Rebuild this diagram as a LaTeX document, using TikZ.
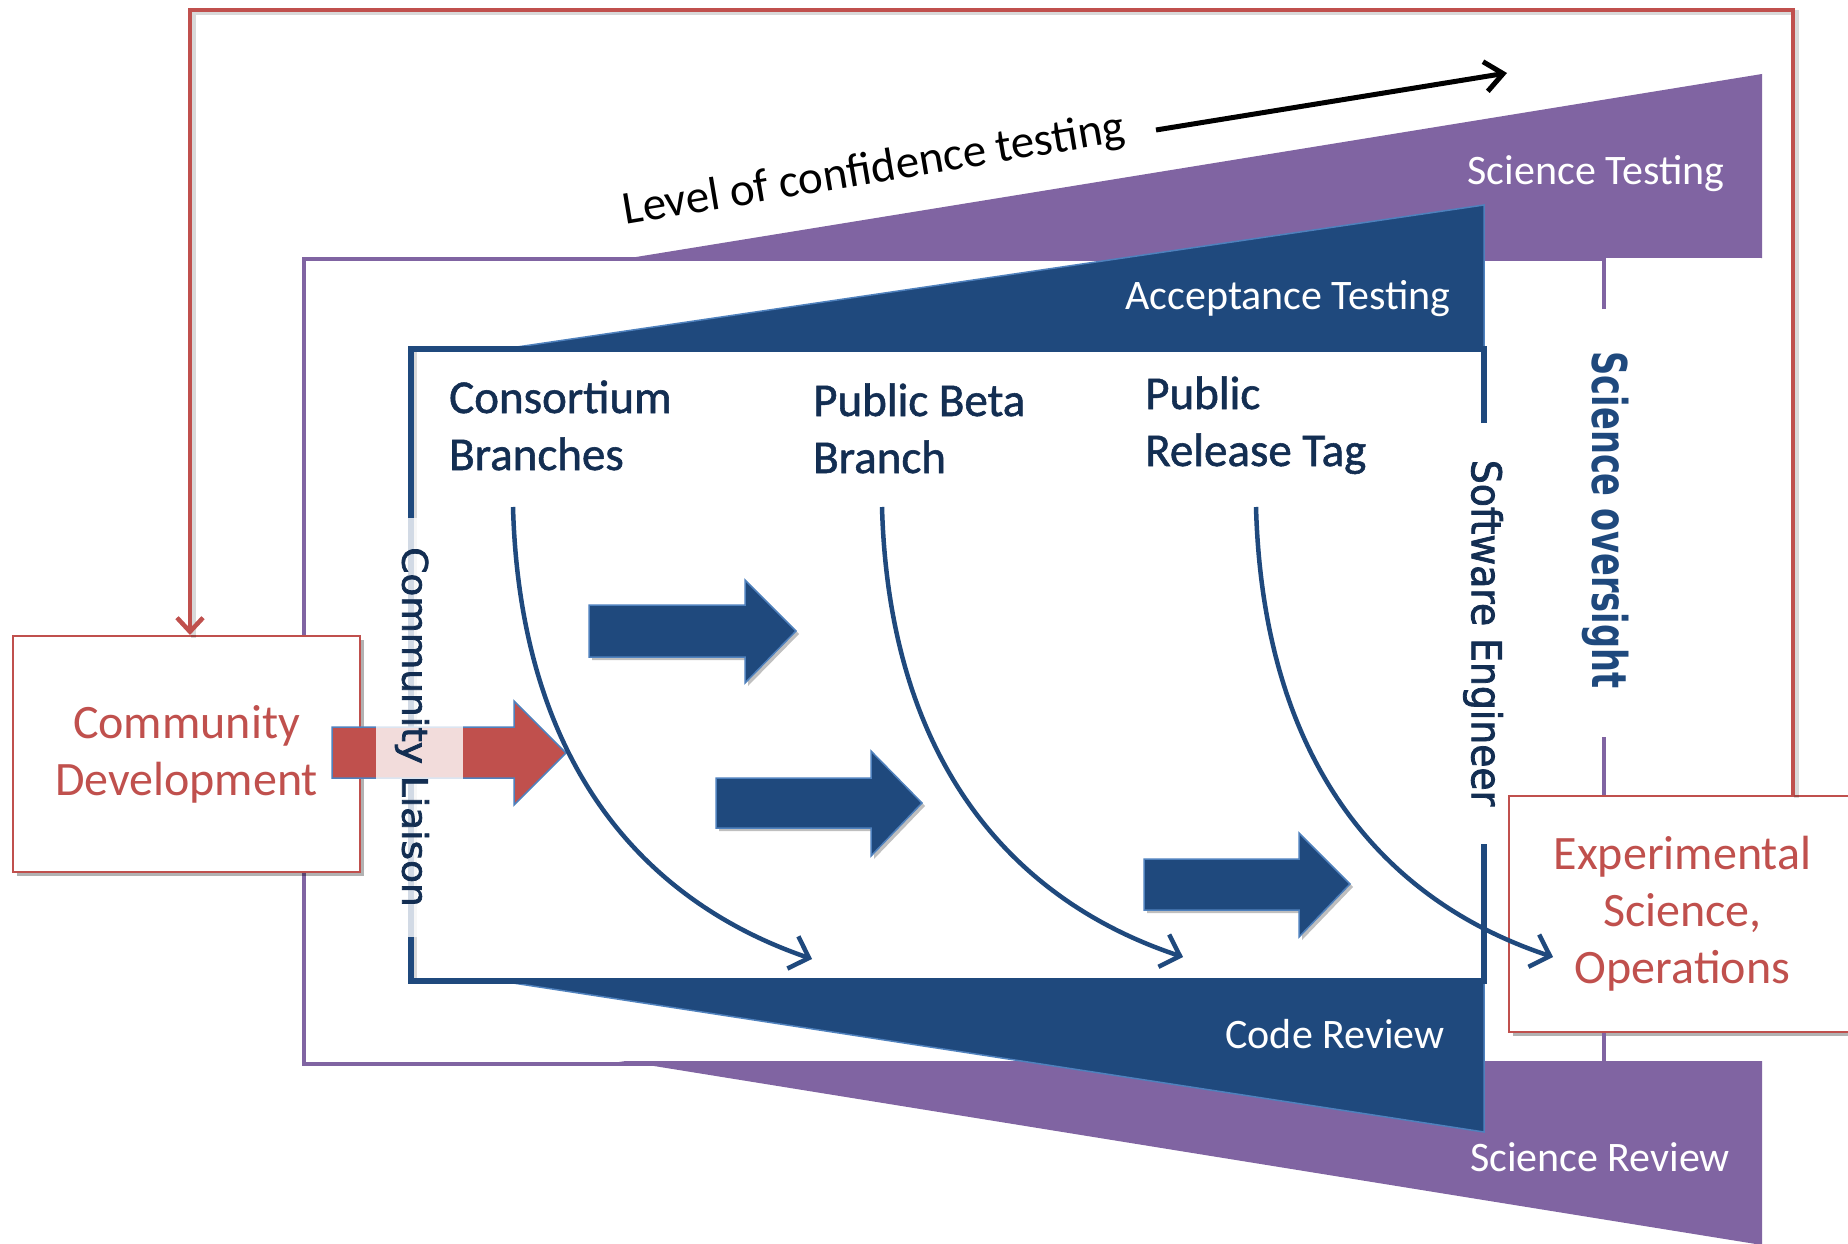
\documentclass[tikz,border=0pt]{standalone}
\usepackage{fontspec}
\usepackage{graphicx}
\setmainfont{Carlito}
\newfontfamily\dejavu{DejaVu Sans}
\newfontfamily\dejavuemb{DejaVu Sans}[FakeBold=2]
\newfontfamily\carlitoemb{Carlito}[FakeBold=1.2]
\usetikzlibrary{arrows.meta,shadows}
\definecolor{purp}{HTML}{8064A2}
\definecolor{navy}{HTML}{1F497D}
\definecolor{lblue}{HTML}{4F81BD}
\definecolor{redc}{HTML}{C0504D}
\definecolor{txtnavy}{HTML}{132E52}
\tikzset{
  ptri/.style={fill=purp},
  btri/.style={fill=navy, draw=lblue, line width=1.5pt, line join=miter},
  pframe/.style={draw=purp, line width=4pt},
  bframe/.style={draw=navy, line width=5.5pt, line join=miter},
  blockarr/.style={fill=navy, draw=lblue, line width=1.5pt,
    drop shadow={shadow xshift=3pt, shadow yshift=-3pt, opacity=0.25, fill=black}},
  redarr/.style={fill=redc, draw=lblue, line width=1.5pt},
  curvearr/.style={draw=navy, line width=4.5pt,
    -{Straight Barb[length=17pt,width=34pt]}},
  redline/.style={draw=redc, line width=4.5pt},
  shadowline/.style={draw=black, opacity=0.15, line width=5pt},
  redbox/.style={draw=redc, line width=2pt, fill=white, text=redc,
    minimum width=347pt, minimum height=236pt, inner sep=0pt, align=center,
    font=\fontsize{48}{57}\selectfont,
    drop shadow={shadow xshift=4pt, shadow yshift=-4pt, opacity=0.3, fill=black}},
  wlabel/.style={text=white, font=\fontsize{42}{50}\selectfont, inner sep=0pt, anchor=base},
  nlabel/.style={text=txtnavy, font=\carlitoemb\fontsize{47}{57}\selectfont, inner sep=0pt, anchor=base west},
  vlabel/.style={text=txtnavy, inner sep=0pt, rotate=-90},
}
\begin{document}
\begin{tikzpicture}[x=1pt,y=-1pt]
\useasboundingbox (0,0) rectangle (1848,1244);
\fill[white] (0,0) rectangle (1848,1244);

% purple wedges
\path[ptri] (636,257) -- (1762,74) -- (1762,258) -- cycle;
\path[ptri] (619,1061) -- (1762,1061) -- (1762,1245) -- (654,1066) -- cycle;

% purple frame
\draw[pframe] (1604,309) -- (1604,259) -- (304,259) -- (304,1064) -- (660,1064);

% blue wedges
\draw[btri] (517,347) -- (1484,205) -- (1484,347) -- cycle;
\draw[btri] (500,981) -- (1484,981) -- (1484,1132) -- cycle;

% blue frame
\draw[shadowline] (414,352) -- (414,984);
\draw[bframe] (1484,423) -- (1484,349) -- (411,349) -- (411,981) -- (1484,981) -- (1484,844);

% wedge labels
\node[wlabel] (stest) at (1596,185) {Science Testing};
\node[wlabel] (accept) at (1288,309) {Acceptance Testing};
\node[wlabel] (creview) at (1335,1048) {Code Review};
\node[wlabel] (sreview) at (1600,1171) {Science Review};

% block arrows
\draw[blockarr] (589,605) -- (745,605) -- (745,580) -- (796,631) -- (745,683) -- (745,657) -- (589,657) -- cycle;
\draw[blockarr] (716,778) -- (871,778) -- (871,751) -- (922,803) -- (871,856) -- (871,828) -- (716,828) -- cycle;
\draw[blockarr] (1144,859) -- (1299,859) -- (1299,833) -- (1350,884) -- (1299,937) -- (1299,910) -- (1144,910) -- cycle;

% boxes
\node[redbox] (cd) at (186.5,754) {Community\\Development};
\node[redbox] (exp) at (1682.5,914) {Experimental\\Science,\\Operations};

% purple right segments
\coordinate (prx) at (1604,737);
\draw[pframe] (prx) -- (exp.north -| prx);
\draw[pframe] (exp.south -| prx) -- (1604,1062);

% red block arrow
\draw[redarr] (332,727) -- (514,727) -- (514,701) -- (566,753) -- (514,805) -- (514,778) -- (332,778) -- cycle;

% community liaison overlay
\node[fill=white, fill opacity=0.8, minimum width=87pt, minimum height=419pt, inner sep=0pt] (clbox) at (419.5,727.5) {};
\node[vlabel] (cl) at (412,727) {\scalebox{1.07}[1]{\dejavuemb\fontsize{35}{35}\selectfont Community Liaison}};
\node[vlabel] (se) at (1483,633) {\scalebox{0.92}[1]{\dejavuemb\fontsize{41}{41}\selectfont Software Engineer}};
\node[vlabel, text=navy] (so) at (1606,520) {\scalebox{0.70}[1]{\dejavu\bfseries\fontsize{48}{48}\selectfont Science oversight}};

% branch labels
\node[nlabel] (cons1) at (449,413) {Consortium};
\node[nlabel] (cons2) at (449,470) {Branches};
\node[nlabel] (beta1) at (813,416) {Public Beta};
\node[nlabel] (beta2) at (813,473) {Branch};
\node[nlabel] (rel1) at (1145,409) {Public};
\node[nlabel] (rel2) at (1145,466) {Release Tag};

% curved arrows
\coordinate (c1s) at (513,507);
\coordinate (c1e) at (812,959);
\coordinate (c2s) at (882,507);
\coordinate (c2e) at (1183,957);
\coordinate (c3s) at (1256,507);
\coordinate (c3e) at (1553,957);
\draw[curvearr] (c1s) .. controls (520,760) and (640,900) .. (c1e);
\draw[curvearr] (c2s) .. controls (889,760) and (1011,900) .. (c2e);
\draw[curvearr] (c3s) .. controls (1263,760) and (1381,900) .. (c3e);

% red feedback loop
\coordinate (rtop) at (1793,10);
\coordinate (ltop) at (190,10);
\draw[shadowline] ([xshift=3pt,yshift=-3pt]exp.north -| rtop) -- ([xshift=3pt,yshift=-3pt]rtop) -- ([xshift=3pt,yshift=-3pt]ltop) -- ([xshift=3pt,yshift=-3pt]cd.north -| ltop);
\draw[redline, -{Straight Barb[length=14pt,width=26pt]}] (exp.north -| rtop) -- (rtop) -- (ltop) -- (cd.north -| ltop);

% level of confidence
\node[font=\fontsize{47}{50}\selectfont, rotate=9.5, anchor=base, inner sep=0pt] (lvl) at (876,183) {Level of confidence testing};
\coordinate (ka) at (1156,130);
\coordinate (kb) at (1507,73);
\draw[line width=5pt, -{Straight Barb[length=18pt,width=30pt]}] (ka) -- (kb);
\end{tikzpicture}
\end{document}
